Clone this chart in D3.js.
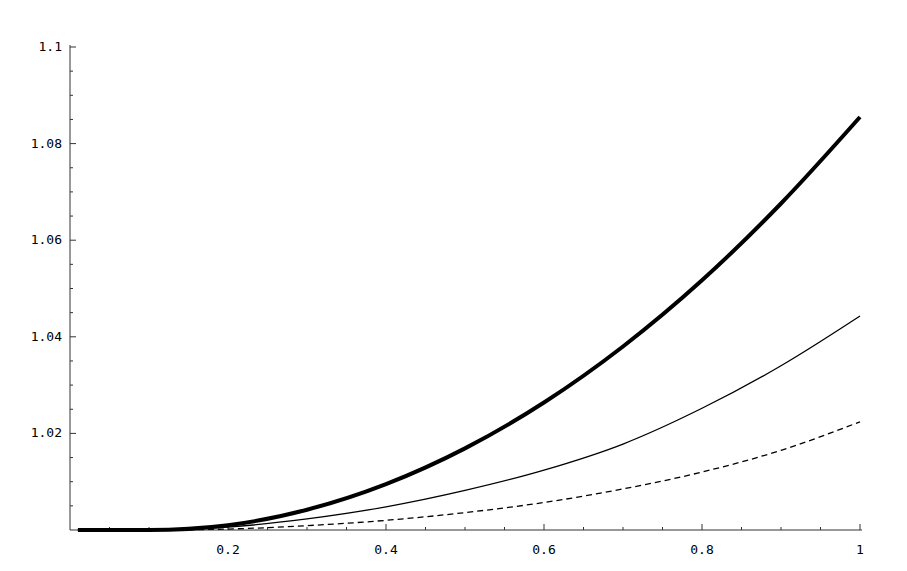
<!DOCTYPE html><html><head><meta charset="utf-8"><script src="https://cdn.jsdelivr.net/npm/d3@7"></script>
<style>body{margin:0;background:#fff}text{font-family:"DejaVu Sans Mono","Liberation Mono",monospace;font-size:13px}</style></head><body><svg width="907" height="571"></svg><script>
const xs=[0.01,0.1,0.2,0.3,0.4,0.5,0.6,0.7,0.8,0.9,1.0];
const thick=[1.0,1.0,1.001,1.0042,1.0095,1.0169,1.0264,1.038,1.0517,1.0676,1.0855];
const thin=[1.0,1.0,1.0006,1.0023,1.0048,1.0082,1.0124,1.0178,1.0252,1.034,1.0443];
const dashed=[1.0,1.0,1.0002,1.0009,1.002,1.0036,1.0057,1.0085,1.012,1.0165,1.0224];
const xTicks=[0.2,0.4,0.6,0.8,1];
const yTicks=[1.02,1.04,1.06,1.08,1.1];
const svg=d3.select("svg");
const x=d3.scaleLinear().domain([0,1]).range([70,860]);
const y=d3.scaleLinear().domain([1,1.1]).range([530,47]);
const g=svg.append("g");
g.append("line").attr("x1",70).attr("x2",862).attr("y1",530).attr("y2",530).attr("stroke","#333");
g.append("line").attr("x1",70).attr("x2",70).attr("y1",530).attr("y2",45).attr("stroke","#333");
d3.range(0.05,1.001,0.05).forEach(v=>{const maj=xTicks.some(t=>Math.abs(t-v)<1e-6);
 g.append("line").attr("x1",x(v)).attr("x2",x(v)).attr("y1",530).attr("y2",530-(maj?6:3)).attr("stroke","#333");});
d3.range(1.005,1.1001,0.005).forEach(v=>{const maj=yTicks.some(t=>Math.abs(t-v)<1e-6);
 g.append("line").attr("x1",70).attr("x2",70+(maj?6:3)).attr("y1",y(v)).attr("y2",y(v)).attr("stroke","#333");});
xTicks.forEach(t=>g.append("text").attr("x",x(t)).attr("y",554).attr("text-anchor","middle").text(String(t)));
yTicks.forEach(t=>g.append("text").attr("x",62).attr("y",y(t)+4).attr("text-anchor","end").text(String(t)));
const line=d3.line().x((d,i)=>x(xs[i])).y(d=>y(d)).curve(d3.curveMonotoneX);
svg.append("path").datum(dashed).attr("d",line).attr("fill","none").attr("stroke","#000").attr("stroke-width",1.3).attr("stroke-dasharray","6,4");
svg.append("path").datum(thin).attr("d",line).attr("fill","none").attr("stroke","#000").attr("stroke-width",1.3);
svg.append("path").datum(thick).attr("d",line).attr("fill","none").attr("stroke","#000").attr("stroke-width",4);
</script></body></html>
